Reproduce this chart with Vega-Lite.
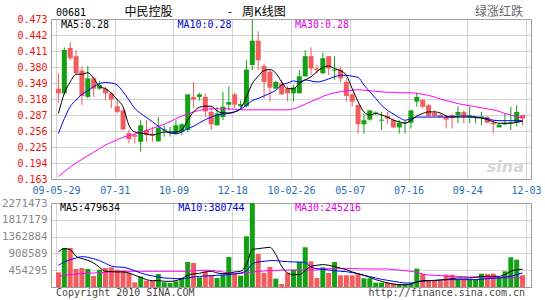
{
"$schema":"https://vega.github.io/schema/vega-lite/v6.json",
"padding":0,
"background":"#ffffff",
"spacing":24,
"bounds":"flush",
"config":{"view":{"stroke":"#999999","strokeWidth":1},"axis":{"gridColor":"#a8a8a8","gridDash":[1,1],"domain":false,"ticks":false,"tickSize":0}},
"datasets":{"k":[
{"n":1,"o":0.338,"h":0.368,"l":0.310,"c":0.329,"v":397000,"m5":0.290,"m10":0.251,"m30":0.168,"vm5":947000,"vm10":587000,"vm30":289000},
{"n":2,"o":0.329,"h":0.418,"l":0.326,"c":0.413,"v":1055000,"m5":0.329,"m10":0.280,"m30":0.177,"vm5":1038000,"vm10":677000,"vm30":316000},
{"n":3,"o":0.417,"h":0.429,"l":0.393,"c":0.397,"v":1055000,"m5":0.351,"m10":0.303,"m30":0.186,"vm5":1010000,"vm10":739000,"vm30":334000},
{"n":4,"o":0.401,"h":0.413,"l":0.366,"c":0.368,"v":487000,"m5":0.366,"m10":0.316,"m30":0.194,"vm5":830000,"vm10":784000,"vm30":352000},
{"n":5,"o":0.373,"h":0.381,"l":0.306,"c":0.324,"v":514000,"m5":0.366,"m10":0.327,"m30":0.201,"vm5":768000,"vm10":821000,"vm30":361000},
{"n":6,"o":0.322,"h":0.382,"l":0.319,"c":0.358,"v":487000,"m5":0.369,"m10":0.334,"m30":0.208,"vm5":722000,"vm10":803000,"vm30":370000},
{"n":7,"o":0.358,"h":0.362,"l":0.322,"c":0.338,"v":297000,"m5":0.358,"m10":0.342,"m30":0.215,"vm5":649000,"vm10":767000,"vm30":379000},
{"n":8,"o":0.338,"h":0.353,"l":0.336,"c":0.345,"v":469000,"m5":0.342,"m10":0.348,"m30":0.222,"vm5":533000,"vm10":713000,"vm30":388000},
{"n":9,"o":0.338,"h":0.342,"l":0.316,"c":0.329,"v":514000,"m5":0.338,"m10":0.350,"m30":0.229,"vm5":425000,"vm10":640000,"vm30":397000},
{"n":10,"o":0.329,"h":0.332,"l":0.300,"c":0.317,"v":532000,"m5":0.329,"m10":0.349,"m30":0.234,"vm5":416000,"vm10":568000,"vm30":406000},
{"n":11,"o":0.304,"h":0.319,"l":0.290,"c":0.293,"v":469000,"m5":0.317,"m10":0.345,"m30":0.239,"vm5":407000,"vm10":541000,"vm30":415000},
{"n":12,"o":0.296,"h":0.298,"l":0.258,"c":0.259,"v":442000,"m5":0.303,"m10":0.332,"m30":0.244,"vm5":407000,"vm10":533000,"vm30":424000},
{"n":13,"o":0.252,"h":0.258,"l":0.232,"c":0.240,"v":379000,"m5":0.267,"m10":0.316,"m30":0.247,"vm5":380000,"vm10":497000,"vm30":424000},
{"n":14,"o":0.248,"h":0.251,"l":0.232,"c":0.245,"v":127000,"m5":0.254,"m10":0.300,"m30":0.250,"vm5":317000,"vm10":442000,"vm30":424000},
{"n":15,"o":0.235,"h":0.277,"l":0.216,"c":0.267,"v":280000,"m5":0.252,"m10":0.290,"m30":0.253,"vm5":262000,"vm10":379000,"vm30":424000},
{"n":16,"o":0.258,"h":0.277,"l":0.235,"c":0.248,"v":172000,"m5":0.250,"m10":0.282,"m30":0.257,"vm5":199000,"vm10":334000,"vm30":424000},
{"n":17,"o":0.251,"h":0.264,"l":0.235,"c":0.248,"v":172000,"m5":0.248,"m10":0.274,"m30":0.261,"vm5":172000,"vm10":298000,"vm30":424000},
{"n":18,"o":0.236,"h":0.283,"l":0.235,"c":0.262,"v":352000,"m5":0.251,"m10":0.265,"m30":0.265,"vm5":172000,"vm10":271000,"vm30":424000},
{"n":19,"o":0.257,"h":0.267,"l":0.245,"c":0.259,"v":127000,"m5":0.254,"m10":0.258,"m30":0.269,"vm5":154000,"vm10":244000,"vm30":424000},
{"n":20,"o":0.253,"h":0.264,"l":0.245,"c":0.255,"v":108000,"m5":0.254,"m10":0.252,"m30":0.274,"vm5":154000,"vm10":235000,"vm30":424000},
{"n":21,"o":0.251,"h":0.277,"l":0.248,"c":0.267,"v":154000,"m5":0.254,"m10":0.251,"m30":0.280,"vm5":172000,"vm10":226000,"vm30":424000},
{"n":22,"o":0.254,"h":0.271,"l":0.248,"c":0.269,"v":244000,"m5":0.258,"m10":0.254,"m30":0.285,"vm5":226000,"vm10":226000,"vm30":424000},
{"n":23,"o":0.258,"h":0.327,"l":0.254,"c":0.327,"v":676000,"m5":0.277,"m10":0.261,"m30":0.289,"vm5":317000,"vm10":244000,"vm30":424000},
{"n":24,"o":0.322,"h":0.351,"l":0.300,"c":0.317,"v":649000,"m5":0.293,"m10":0.265,"m30":0.293,"vm5":353000,"vm10":271000,"vm30":440000},
{"n":25,"o":0.322,"h":0.330,"l":0.315,"c":0.327,"v":262000,"m5":0.302,"m10":0.272,"m30":0.296,"vm5":371000,"vm10":289000,"vm30":445000},
{"n":26,"o":0.322,"h":0.329,"l":0.283,"c":0.294,"v":424000,"m5":0.304,"m10":0.278,"m30":0.298,"vm5":407000,"vm10":298000,"vm30":455000},
{"n":27,"o":0.293,"h":0.303,"l":0.258,"c":0.269,"v":307000,"m5":0.304,"m10":0.283,"m30":0.299,"vm5":425000,"vm10":307000,"vm30":450000},
{"n":28,"o":0.267,"h":0.303,"l":0.267,"c":0.290,"v":244000,"m5":0.295,"m10":0.287,"m30":0.299,"vm5":380000,"vm10":316000,"vm30":430000},
{"n":29,"o":0.283,"h":0.332,"l":0.277,"c":0.303,"v":334000,"m5":0.291,"m10":0.289,"m30":0.299,"vm5":362000,"vm10":325000,"vm30":405000},
{"n":30,"o":0.307,"h":0.342,"l":0.296,"c":0.312,"v":811000,"m5":0.291,"m10":0.290,"m30":0.299,"vm5":371000,"vm10":334000,"vm30":385000},
{"n":31,"o":0.327,"h":0.330,"l":0.300,"c":0.307,"v":361000,"m5":0.293,"m10":0.293,"m30":0.298,"vm5":407000,"vm10":352000,"vm30":370000},
{"n":32,"o":0.304,"h":0.315,"l":0.302,"c":0.308,"v":307000,"m5":0.300,"m10":0.298,"m30":0.297,"vm5":425000,"vm10":379000,"vm30":365000},
{"n":33,"o":0.304,"h":0.393,"l":0.302,"c":0.375,"v":1371000,"m5":0.322,"m10":0.306,"m30":0.297,"vm5":605000,"vm10":442000,"vm30":380000},
{"n":34,"o":0.384,"h":0.473,"l":0.374,"c":0.431,"v":2271473,"m5":0.348,"m10":0.315,"m30":0.297,"vm5":1010000,"vm10":622000,"vm30":405000},
{"n":35,"o":0.431,"h":0.449,"l":0.374,"c":0.393,"v":892000,"m5":0.362,"m10":0.319,"m30":0.297,"vm5":1038000,"vm10":677000,"vm30":424000},
{"n":36,"o":0.382,"h":0.387,"l":0.319,"c":0.351,"v":379000,"m5":0.373,"m10":0.324,"m30":0.297,"vm5":1056000,"vm10":695000,"vm30":433000},
{"n":37,"o":0.371,"h":0.374,"l":0.313,"c":0.340,"v":541000,"m5":0.375,"m10":0.329,"m30":0.297,"vm5":1074000,"vm10":713000,"vm30":442000},
{"n":38,"o":0.338,"h":0.353,"l":0.338,"c":0.351,"v":226000,"m5":0.368,"m10":0.335,"m30":0.297,"vm5":875000,"vm10":713000,"vm30":442000},
{"n":39,"o":0.348,"h":0.355,"l":0.326,"c":0.327,"v":81000,"m5":0.351,"m10":0.345,"m30":0.297,"vm5":560000,"vm10":695000,"vm30":460000},
{"n":40,"o":0.338,"h":0.343,"l":0.313,"c":0.329,"v":388000,"m5":0.338,"m10":0.349,"m30":0.297,"vm5":379000,"vm10":686000,"vm30":460000},
{"n":41,"o":0.329,"h":0.345,"l":0.313,"c":0.340,"v":469000,"m5":0.338,"m10":0.353,"m30":0.299,"vm5":334000,"vm10":677000,"vm30":460000},
{"n":42,"o":0.329,"h":0.374,"l":0.329,"c":0.362,"v":676000,"m5":0.348,"m10":0.351,"m30":0.303,"vm5":334000,"vm10":677000,"vm30":460000},
{"n":43,"o":0.362,"h":0.413,"l":0.361,"c":0.401,"v":1073000,"m5":0.355,"m10":0.355,"m30":0.308,"vm5":442000,"vm10":668000,"vm30":460000},
{"n":44,"o":0.401,"h":0.418,"l":0.364,"c":0.377,"v":694000,"m5":0.361,"m10":0.353,"m30":0.313,"vm5":560000,"vm10":533000,"vm30":460000},
{"n":45,"o":0.377,"h":0.384,"l":0.368,"c":0.374,"v":244000,"m5":0.371,"m10":0.351,"m30":0.318,"vm5":587000,"vm10":497000,"vm30":460000},
{"n":46,"o":0.368,"h":0.408,"l":0.366,"c":0.397,"v":532000,"m5":0.379,"m10":0.353,"m30":0.323,"vm5":605000,"vm10":479000,"vm30":497000},
{"n":47,"o":0.401,"h":0.401,"l":0.364,"c":0.377,"v":379000,"m5":0.382,"m10":0.357,"m30":0.327,"vm5":587000,"vm10":460000,"vm30":497000},
{"n":48,"o":0.373,"h":0.401,"l":0.355,"c":0.375,"v":676000,"m5":0.377,"m10":0.361,"m30":0.330,"vm5":551000,"vm10":442000,"vm30":497000},
{"n":49,"o":0.375,"h":0.381,"l":0.351,"c":0.358,"v":316000,"m5":0.373,"m10":0.364,"m30":0.332,"vm5":514000,"vm10":424000,"vm30":497000},
{"n":50,"o":0.351,"h":0.358,"l":0.313,"c":0.324,"v":316000,"m5":0.364,"m10":0.364,"m30":0.334,"vm5":469000,"vm10":415000,"vm30":497000},
{"n":51,"o":0.327,"h":0.329,"l":0.303,"c":0.313,"v":316000,"m5":0.338,"m10":0.362,"m30":0.335,"vm5":406000,"vm10":388000,"vm30":497000},
{"n":52,"o":0.306,"h":0.308,"l":0.251,"c":0.269,"v":352000,"m5":0.313,"m10":0.360,"m30":0.336,"vm5":361000,"vm10":361000,"vm30":497000},
{"n":53,"o":0.269,"h":0.290,"l":0.251,"c":0.277,"v":235000,"m5":0.293,"m10":0.345,"m30":0.335,"vm5":316000,"vm10":316000,"vm30":488000},
{"n":54,"o":0.278,"h":0.296,"l":0.276,"c":0.296,"v":235000,"m5":0.287,"m10":0.332,"m30":0.334,"vm5":262000,"vm10":280000,"vm30":488000},
{"n":55,"o":0.290,"h":0.294,"l":0.287,"c":0.292,"v":118000,"m5":0.290,"m10":0.319,"m30":0.333,"vm5":199000,"vm10":244000,"vm30":488000},
{"n":56,"o":0.276,"h":0.293,"l":0.258,"c":0.278,"v":118000,"m5":0.287,"m10":0.306,"m30":0.332,"vm5":154000,"vm10":208000,"vm30":488000},
{"n":57,"o":0.285,"h":0.293,"l":0.270,"c":0.280,"v":118000,"m5":0.283,"m10":0.296,"m30":0.331,"vm5":109000,"vm10":181000,"vm30":488000},
{"n":58,"o":0.277,"h":0.280,"l":0.261,"c":0.263,"v":91000,"m5":0.277,"m10":0.289,"m30":0.331,"vm5":81000,"vm10":154000,"vm30":469000},
{"n":59,"o":0.263,"h":0.277,"l":0.251,"c":0.272,"v":72000,"m5":0.274,"m10":0.282,"m30":0.330,"vm5":63000,"vm10":127000,"vm30":460000},
{"n":60,"o":0.271,"h":0.277,"l":0.251,"c":0.273,"v":72000,"m5":0.271,"m10":0.277,"m30":0.330,"vm5":63000,"vm10":109000,"vm30":442000},
{"n":61,"o":0.272,"h":0.296,"l":0.261,"c":0.296,"v":91000,"m5":0.277,"m10":0.280,"m30":0.330,"vm5":81000,"vm10":109000,"vm30":424000},
{"n":62,"o":0.313,"h":0.330,"l":0.303,"c":0.322,"v":496000,"m5":0.285,"m10":0.283,"m30":0.329,"vm5":136000,"vm10":136000,"vm30":397000},
{"n":63,"o":0.316,"h":0.319,"l":0.300,"c":0.303,"v":352000,"m5":0.290,"m10":0.283,"m30":0.327,"vm5":172000,"vm10":154000,"vm30":352000},
{"n":64,"o":0.306,"h":0.308,"l":0.283,"c":0.285,"v":172000,"m5":0.293,"m10":0.283,"m30":0.325,"vm5":172000,"vm10":172000,"vm30":325000},
{"n":65,"o":0.291,"h":0.296,"l":0.283,"c":0.285,"v":172000,"m5":0.293,"m10":0.283,"m30":0.322,"vm5":172000,"vm10":181000,"vm30":316000},
{"n":66,"o":0.287,"h":0.290,"l":0.282,"c":0.283,"v":172000,"m5":0.291,"m10":0.283,"m30":0.318,"vm5":190000,"vm10":190000,"vm30":307000},
{"n":67,"o":0.283,"h":0.287,"l":0.261,"c":0.278,"v":334000,"m5":0.285,"m10":0.283,"m30":0.315,"vm5":199000,"vm10":199000,"vm30":298000},
{"n":68,"o":0.287,"h":0.289,"l":0.261,"c":0.283,"v":334000,"m5":0.283,"m10":0.283,"m30":0.312,"vm5":226000,"vm10":199000,"vm30":289000},
{"n":69,"o":0.287,"h":0.304,"l":0.271,"c":0.293,"v":208000,"m5":0.283,"m10":0.285,"m30":0.309,"vm5":244000,"vm10":199000,"vm30":289000},
{"n":70,"o":0.293,"h":0.296,"l":0.271,"c":0.285,"v":208000,"m5":0.283,"m10":0.285,"m30":0.307,"vm5":244000,"vm10":199000,"vm30":280000},
{"n":71,"o":0.284,"h":0.303,"l":0.271,"c":0.286,"v":208000,"m5":0.283,"m10":0.285,"m30":0.305,"vm5":244000,"vm10":199000,"vm30":271000},
{"n":72,"o":0.282,"h":0.285,"l":0.271,"c":0.284,"v":208000,"m5":0.282,"m10":0.283,"m30":0.303,"vm5":262000,"vm10":199000,"vm30":271000},
{"n":73,"o":0.282,"h":0.293,"l":0.267,"c":0.284,"v":361000,"m5":0.281,"m10":0.282,"m30":0.301,"vm5":280000,"vm10":208000,"vm30":271000},
{"n":74,"o":0.283,"h":0.285,"l":0.271,"c":0.272,"v":352000,"m5":0.278,"m10":0.280,"m30":0.299,"vm5":289000,"vm10":226000,"vm30":262000},
{"n":75,"o":0.272,"h":0.277,"l":0.251,"c":0.269,"v":361000,"m5":0.274,"m10":0.277,"m30":0.297,"vm5":289000,"vm10":235000,"vm30":253000},
{"n":76,"o":0.263,"h":0.271,"l":0.263,"c":0.268,"v":244000,"m5":0.271,"m10":0.276,"m30":0.294,"vm5":289000,"vm10":244000,"vm30":253000},
{"n":77,"o":0.269,"h":0.290,"l":0.267,"c":0.272,"v":424000,"m5":0.271,"m10":0.276,"m30":0.290,"vm5":334000,"vm10":262000,"vm30":250000},
{"n":78,"o":0.271,"h":0.303,"l":0.258,"c":0.273,"v":803000,"m5":0.271,"m10":0.276,"m30":0.287,"vm5":424000,"vm10":289000,"vm30":248000},
{"n":79,"o":0.272,"h":0.306,"l":0.265,"c":0.293,"v":740000,"m5":0.273,"m10":0.276,"m30":0.284,"vm5":470000,"vm10":334000,"vm30":246000},
{"n":80,"o":0.287,"h":0.287,"l":0.267,"c":0.280,"v":316000,"m5":0.275,"m10":0.276,"m30":0.281,"vm5":480000,"vm10":381000,"vm30":245000}
]},
"vconcat":[
{
"width":480,"height":160,
"layer":[
{"data":{"name":"k"},"mark":{"type":"rule","strokeWidth":1},"encoding":{"x":{"field":"n","type":"quantitative","scale":{"domain":[0.5833,80.5833],"nice":false,"zero":false},"axis":{"values":[0.5833,10.5833,20.5833,30.5833,40.5833,50.5833,60.5833,70.5833,80.5833],"tickCount":30,"tickSize":0,"labelExpr":"datum.value < 5 ? '09-05-29' : datum.value < 15 ? '07-31' : datum.value < 25 ? '10-09' : datum.value < 35 ? '12-18' : datum.value < 45 ? '10-02-26' : datum.value < 55 ? '05-07' : datum.value < 65 ? '07-16' : datum.value < 75 ? '09-24' : '12-03'","labelColor":"#1f6fb5","labelFont":"DejaVu Sans Mono","labelFontSize":10,"labelPadding":6,"labelFlush":false,"labelOverlap":false,"grid":true,"title":null}},"y":{"field":"l","type":"quantitative","scale":{"domain":[0.163,0.473],"nice":false,"zero":false},"axis":{"values":[0.163,0.194,0.225,0.256,0.287,0.318,0.349,0.380,0.411,0.442,0.473],"tickCount":30,"tickSize":0,"format":".3f","labelColor":"#ee1111","labelFont":"DejaVu Sans Mono","labelFontSize":10,"labelPadding":4,"labelOverlap":false,"grid":true,"title":".","titleX":-50,"titleY":-18,"titleAlign":"left","titleBaseline":"top","titleAngle":0,"titleFontSize":6,"titleColor":"#ffffff","titlePadding":0}},"y2":{"field":"h"},"color":{"condition":{"test":"datum.c >= datum.o","value":"#14a014"},"value":"#f25c5c"}}},
{"data":{"name":"k"},"mark":{"type":"bar","size":5},"encoding":{"x":{"field":"n","type":"quantitative","scale":{"domain":[0.5833,80.5833],"nice":false,"zero":false}},"y":{"field":"o","type":"quantitative","scale":{"domain":[0.163,0.473],"nice":false,"zero":false}},"y2":{"field":"c"},"color":{"condition":{"test":"datum.c >= datum.o","value":"#14a014"},"value":"#f25c5c"}}},
{"data":{"name":"k"},"mark":{"type":"line","interpolate":"monotone","strokeWidth":1,"color":"#ff00ff"},"encoding":{"x":{"field":"n","type":"quantitative","scale":{"domain":[0.5833,80.5833],"nice":false,"zero":false}},"y":{"field":"m30","type":"quantitative","scale":{"domain":[0.163,0.473],"nice":false,"zero":false}}}},
{"data":{"name":"k"},"mark":{"type":"line","interpolate":"monotone","strokeWidth":1,"color":"#0000ff"},"encoding":{"x":{"field":"n","type":"quantitative","scale":{"domain":[0.5833,80.5833],"nice":false,"zero":false}},"y":{"field":"m10","type":"quantitative","scale":{"domain":[0.163,0.473],"nice":false,"zero":false}}}},
{"data":{"name":"k"},"mark":{"type":"line","interpolate":"monotone","strokeWidth":1,"color":"#000000"},"encoding":{"x":{"field":"n","type":"quantitative","scale":{"domain":[0.5833,80.5833],"nice":false,"zero":false}},"y":{"field":"m5","type":"quantitative","scale":{"domain":[0.163,0.473],"nice":false,"zero":false}}}},
{"data":{"values":[{"t":"sina"}]},"mark":{"type":"text","align":"right","baseline":"middle","font":"DejaVu Sans","fontStyle":"italic","fontWeight":"bold","fontSize":16,"color":"#d6d6d6"},"encoding":{"text":{"field":"t"},"x":{"datum":80.25,"type":"quantitative","scale":{"domain":[0.5833,80.5833],"nice":false,"zero":false}},"y":{"datum":0.186,"type":"quantitative","scale":{"domain":[0.163,0.473],"nice":false,"zero":false}}}},
{"data":{"values":[{"t":"MA5:0.28"}]},"mark":{"type":"text","align":"left","baseline":"middle","font":"DejaVu Sans Mono","fontSize":10,"color":"#000000"},"encoding":{"text":{"field":"t"},"x":{"datum":1.42,"type":"quantitative","scale":{"domain":[0.5833,80.5833],"nice":false,"zero":false}},"y":{"datum":0.4623,"type":"quantitative","scale":{"domain":[0.163,0.473],"nice":false,"zero":false}}}},
{"data":{"values":[{"t":"MA10:0.28"}]},"mark":{"type":"text","align":"left","baseline":"middle","font":"DejaVu Sans Mono","fontSize":10,"color":"#0000cc"},"encoding":{"text":{"field":"t"},"x":{"datum":21.25,"type":"quantitative","scale":{"domain":[0.5833,80.5833],"nice":false,"zero":false}},"y":{"datum":0.4623,"type":"quantitative","scale":{"domain":[0.163,0.473],"nice":false,"zero":false}}}},
{"data":{"values":[{"t":"MA30:0.28"}]},"mark":{"type":"text","align":"left","baseline":"middle","font":"DejaVu Sans Mono","fontSize":10,"color":"#dd00dd"},"encoding":{"text":{"field":"t"},"x":{"datum":41.25,"type":"quantitative","scale":{"domain":[0.5833,80.5833],"nice":false,"zero":false}},"y":{"datum":0.4623,"type":"quantitative","scale":{"domain":[0.163,0.473],"nice":false,"zero":false}}}},
{"data":{"values":[{"t":"00681"}]},"mark":{"type":"text","align":"left","baseline":"middle","font":"DejaVu Sans Mono","fontSize":10,"color":"#000000"},"encoding":{"text":{"field":"t"},"x":{"datum":0.5833,"type":"quantitative","scale":{"domain":[0.5833,80.5833],"nice":false,"zero":false}},"y":{"datum":0.4855,"type":"quantitative","scale":{"domain":[0.163,0.473],"nice":false,"zero":false}}}},
{"data":{"values":[{"t":"中民控股"}]},"mark":{"type":"text","align":"left","baseline":"middle","font":"Noto Sans CJK SC","fontSize":12,"color":"#000000"},"encoding":{"text":{"field":"t"},"x":{"datum":12.25,"type":"quantitative","scale":{"domain":[0.5833,80.5833],"nice":false,"zero":false}},"y":{"datum":0.4866,"type":"quantitative","scale":{"domain":[0.163,0.473],"nice":false,"zero":false}}}},
{"data":{"values":[{"t":"-"}]},"mark":{"type":"text","align":"center","baseline":"middle","font":"Noto Sans CJK SC","fontSize":12,"color":"#000000"},"encoding":{"text":{"field":"t"},"x":{"datum":30.17,"type":"quantitative","scale":{"domain":[0.5833,80.5833],"nice":false,"zero":false}},"y":{"datum":0.4866,"type":"quantitative","scale":{"domain":[0.163,0.473],"nice":false,"zero":false}}}},
{"data":{"values":[{"t":"周K线图"}]},"mark":{"type":"text","align":"left","baseline":"middle","font":"Noto Sans CJK SC","fontSize":12,"color":"#000000"},"encoding":{"text":{"field":"t"},"x":{"datum":32.25,"type":"quantitative","scale":{"domain":[0.5833,80.5833],"nice":false,"zero":false}},"y":{"datum":0.4866,"type":"quantitative","scale":{"domain":[0.163,0.473],"nice":false,"zero":false}}}},
{"data":{"values":[{"t":"绿涨红跌"}]},"mark":{"type":"text","align":"right","baseline":"middle","font":"Noto Sans CJK SC","fontSize":12,"color":"#666666"},"encoding":{"text":{"field":"t"},"x":{"datum":80.08,"type":"quantitative","scale":{"domain":[0.5833,80.5833],"nice":false,"zero":false}},"y":{"datum":0.4866,"type":"quantitative","scale":{"domain":[0.163,0.473],"nice":false,"zero":false}}}}
]
},
{
"width":480,"height":84,
"layer":[
{"data":{"name":"k"},"mark":{"type":"bar","size":5,"clip":true},"encoding":{"x":{"field":"n","type":"quantitative","scale":{"domain":[0.5833,80.5833],"nice":false,"zero":false},"axis":{"values":[0.5833,10.5833,20.5833,30.5833,40.5833,50.5833,60.5833,70.5833,80.5833],"tickCount":30,"tickSize":0,"labels":false,"grid":true,"title":null}},"y":{"field":"v","type":"quantitative","scale":{"domain":[0,2271473],"nice":false,"zero":false},"axis":{"values":[454295,908589,1362884,1817179,2271473],"tickCount":30,"tickSize":0,"format":"d","labelColor":"#888888","labelFont":"DejaVu Sans Mono","labelFontSize":10.8,"labelPadding":4,"labelOverlap":false,"grid":true,"title":null}},"color":{"condition":{"test":"datum.c >= datum.o","value":"#14a014"},"value":"#f25c5c"}}},
{"data":{"name":"k"},"mark":{"type":"line","interpolate":"monotone","strokeWidth":1,"color":"#ff00ff"},"encoding":{"x":{"field":"n","type":"quantitative","scale":{"domain":[0.5833,80.5833],"nice":false,"zero":false}},"y":{"field":"vm30","type":"quantitative","scale":{"domain":[0,2271473],"nice":false,"zero":false}}}},
{"data":{"name":"k"},"mark":{"type":"line","interpolate":"monotone","strokeWidth":1,"color":"#0000ff"},"encoding":{"x":{"field":"n","type":"quantitative","scale":{"domain":[0.5833,80.5833],"nice":false,"zero":false}},"y":{"field":"vm10","type":"quantitative","scale":{"domain":[0,2271473],"nice":false,"zero":false}}}},
{"data":{"name":"k"},"mark":{"type":"line","interpolate":"monotone","strokeWidth":1,"color":"#000000"},"encoding":{"x":{"field":"n","type":"quantitative","scale":{"domain":[0.5833,80.5833],"nice":false,"zero":false}},"y":{"field":"vm5","type":"quantitative","scale":{"domain":[0,2271473],"nice":false,"zero":false}}}},
{"data":{"values":[{"t":"MA5:479634"}]},"mark":{"type":"text","align":"left","baseline":"middle","font":"DejaVu Sans Mono","fontSize":10,"color":"#000000"},"encoding":{"text":{"field":"t"},"x":{"datum":1.25,"type":"quantitative","scale":{"domain":[0.5833,80.5833],"nice":false,"zero":false}},"y":{"datum":2136000,"type":"quantitative","scale":{"domain":[0,2271473],"nice":false,"zero":false}}}},
{"data":{"values":[{"t":"MA10:380744"}]},"mark":{"type":"text","align":"left","baseline":"middle","font":"DejaVu Sans Mono","fontSize":10,"color":"#0000cc"},"encoding":{"text":{"field":"t"},"x":{"datum":21.4,"type":"quantitative","scale":{"domain":[0.5833,80.5833],"nice":false,"zero":false}},"y":{"datum":2136000,"type":"quantitative","scale":{"domain":[0,2271473],"nice":false,"zero":false}}}},
{"data":{"values":[{"t":"MA30:245216"}]},"mark":{"type":"text","align":"left","baseline":"middle","font":"DejaVu Sans Mono","fontSize":10,"color":"#dd00dd"},"encoding":{"text":{"field":"t"},"x":{"datum":41.25,"type":"quantitative","scale":{"domain":[0.5833,80.5833],"nice":false,"zero":false}},"y":{"datum":2136000,"type":"quantitative","scale":{"domain":[0,2271473],"nice":false,"zero":false}}}},
{"data":{"values":[{"t":"Copyright 2010 SINA.COM"}]},"mark":{"type":"text","align":"left","baseline":"middle","font":"DejaVu Sans Mono","fontSize":10,"color":"#444444"},"encoding":{"text":{"field":"t"},"x":{"datum":0.5833,"type":"quantitative","scale":{"domain":[0.5833,80.5833],"nice":false,"zero":false}},"y":{"datum":-162000,"type":"quantitative","scale":{"domain":[0,2271473],"nice":false,"zero":false}}}},
{"data":{"values":[{"t":"http://finance.sina.com.cn"}]},"mark":{"type":"text","align":"right","baseline":"middle","font":"DejaVu Sans Mono","fontSize":10,"color":"#444444"},"encoding":{"text":{"field":"t"},"x":{"datum":80.42,"type":"quantitative","scale":{"domain":[0.5833,80.5833],"nice":false,"zero":false}},"y":{"datum":-162000,"type":"quantitative","scale":{"domain":[0,2271473],"nice":false,"zero":false}}}}
]
}
]
}
